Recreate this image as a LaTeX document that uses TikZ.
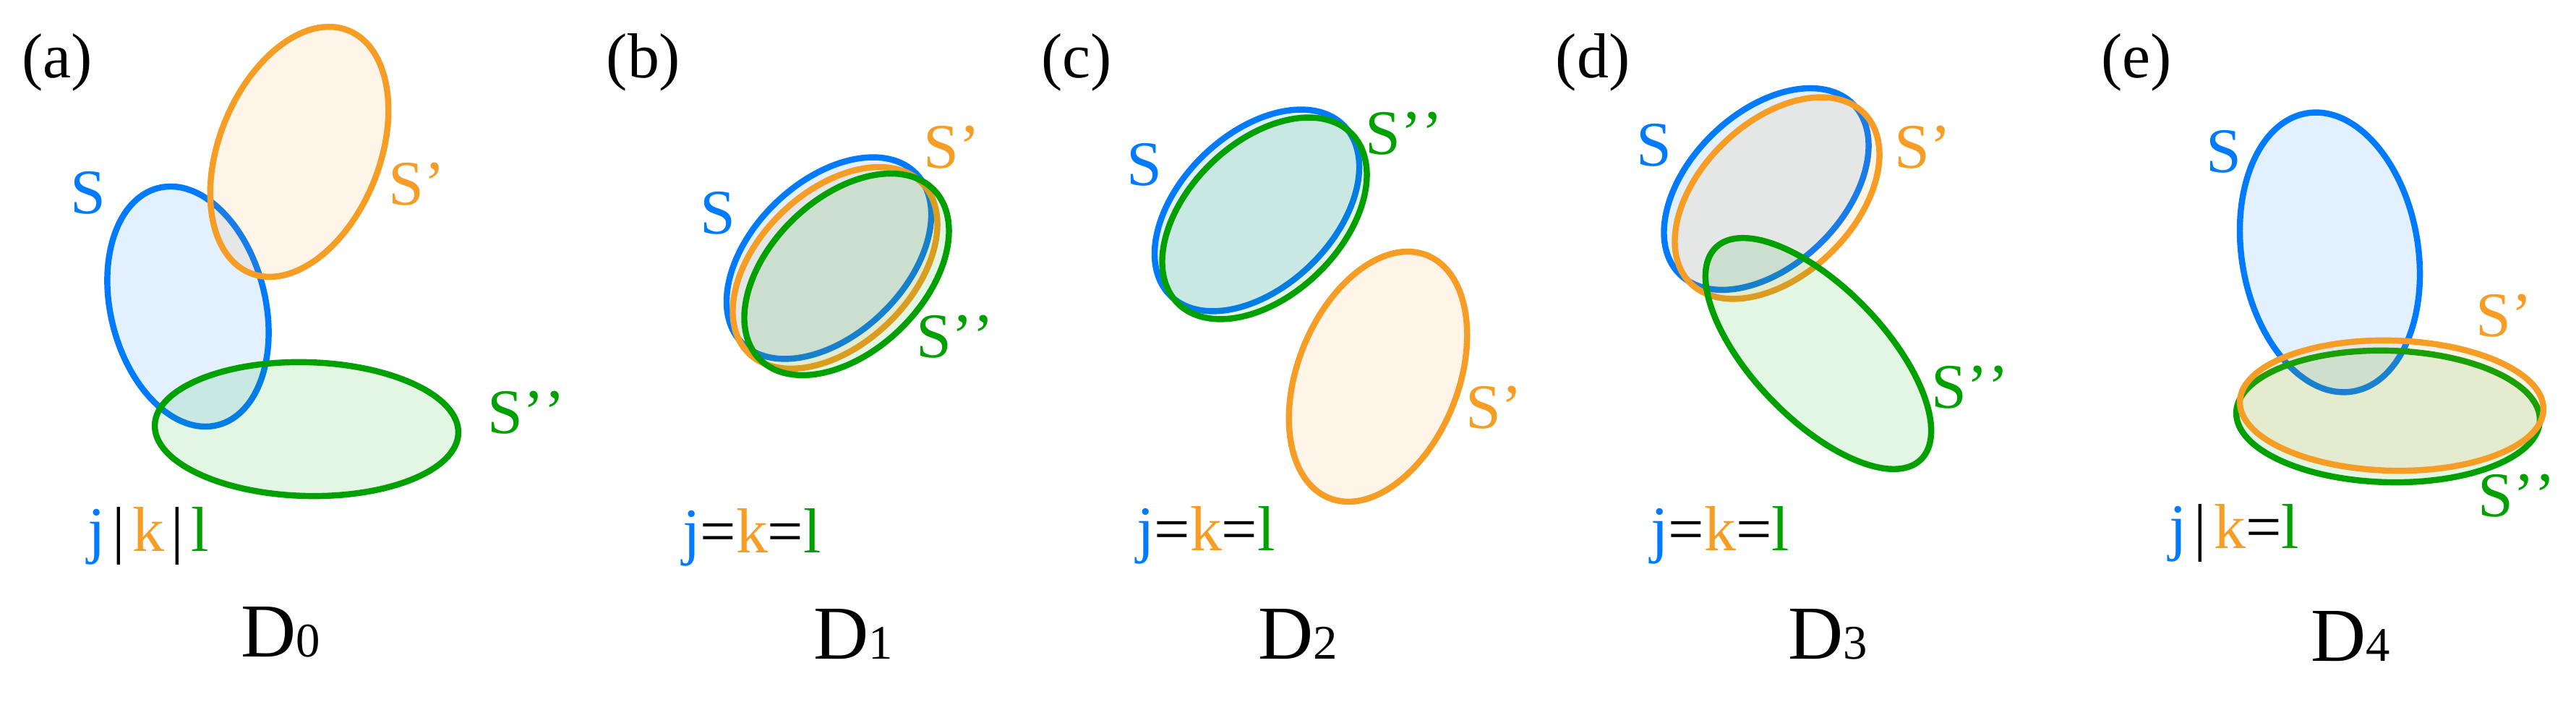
\documentclass[tikz,border=0pt]{standalone}
\usepackage{fontspec}
\setmainfont{Liberation Serif}
\definecolor{cblue}{RGB}{0,122,255}
\definecolor{corange}{RGB}{245,157,37}
\definecolor{cgreen}{RGB}{0,160,0}
\tikzset{
  setS/.style={draw=cblue, fill=cblue, fill opacity=0.11, line width=2.4pt},
  setSp/.style={draw=corange, fill=corange, fill opacity=0.11, line width=2.4pt},
  setSpp/.style={draw=cgreen, fill=cgreen, fill opacity=0.11, line width=2.4pt},
  lbl/.style={inner sep=0pt, font=\fontsize{25}{30}\selectfont},
  dlbl/.style={inner sep=0pt, anchor=base}
}
\newcommand{\dname}[1]{{\fontsize{30}{36}\selectfont D}{\fontsize{19}{22}\selectfont #1}}
\newcommand{\vbar}{\hspace{0.1cm}|\hspace{0.1cm}}
\newcommand{\js}{\textcolor{cblue}{j}}
\newcommand{\ks}{\textcolor{corange}{k}}
\newcommand{\ls}{\textcolor{cgreen}{l}}

\begin{document}
\begin{tikzpicture}
    \useasboundingbox (0,0) rectangle (35.63,10);
    % (a)
    \draw[setS] (2.6,5.76) circle [x radius=1.69, y radius=1.07, rotate=104];
    \draw[setSp] (4.14,7.9) circle [x radius=1.81, y radius=1.11, rotate=68];
    \draw[setSpp] (4.24,4.065) circle [x radius=2.1, y radius=0.925, rotate=-1.5];
    \node[lbl] (tagA) at (0.79,9.14) {(a)};
    \node[lbl, text=cblue] (sA) at (1.22,7.33) {S};
    \node[lbl, text=corange] (spA) at (5.77,7.45) {S’};
    \node[lbl, text=cgreen] (sppA) at (7.28,4.29) {S’\kern0pt’};
    \node[lbl, anchor=base] (relA) at (2.05,2.37) {\js\vbar\ks\vbar\ls};
    \node[dlbl] (dA) at (3.885,0.91) {\dname{0}};

    % (b)
    \draw[setS] (11.465,6.43) circle [x radius=1.68, y radius=1.06, rotate=44];
    \draw[setSp] (11.55,6.295) circle [x radius=1.68, y radius=1.06, rotate=44];
    \draw[setSpp] (11.71,6.205) circle [x radius=1.68, y radius=1.06, rotate=44];
    \node[lbl] (tagB) at (8.9,9.14) {(b)};
    \node[lbl, text=cblue] (sB) at (9.93,7.05) {S};
    \node[lbl, text=corange] (spB) at (13.17,7.96) {S’};
    \node[lbl, text=cgreen] (sppB) at (13.21,5.34) {S’\kern0pt’};
    \node[lbl, anchor=base] (relB) at (10.4,2.35) {\js=\ks=\ls};
    \node[dlbl] (dB) at (11.8,0.88) {\dname{1}};

    % (c)
    \draw[setS] (17.385,7.09) circle [x radius=1.68, y radius=1.06, rotate=44];
    \draw[setSpp] (17.49,6.98) circle [x radius=1.68, y radius=1.06, rotate=44];
    \draw[setSp] (19.06,4.79) circle [x radius=1.81, y radius=1.11, rotate=68];
    \node[lbl] (tagC) at (14.89,9.14) {(c)};
    \node[lbl, text=cblue] (sC) at (15.83,7.72) {S};
    \node[lbl, text=cgreen] (sppC) at (19.42,8.15) {S’\kern0pt’};
    \node[lbl, text=corange] (spC) at (20.67,4.36) {S’};
    \node[lbl, anchor=base] (relC) at (16.68,2.38) {\js=\ks=\ls};
    \node[dlbl] (dC) at (17.95,0.88) {\dname{2}};

    % (d)
    \draw[setS] (24.43,7.385) circle [x radius=1.68, y radius=1.06, rotate=44];
    \draw[setSp] (24.58,7.26) circle [x radius=1.68, y radius=1.06, rotate=44];
    \draw[setSpp] (25.15,5.11) circle [x radius=2.04, y radius=0.91, rotate=-46];
    \node[lbl] (tagD) at (22.03,9.14) {(d)};
    \node[lbl, text=cblue] (sD) at (22.875,7.99) {S};
    \node[lbl, text=corange] (spD) at (26.6,7.96) {S’};
    \node[lbl, text=cgreen] (sppD) at (27.25,4.64) {S’\kern0pt’};
    \node[lbl, anchor=base] (relD) at (23.79,2.38) {\js=\ks=\ls};
    \node[dlbl] (dD) at (25.285,0.88) {\dname{3}};

    % (e)
    \draw[setS] (32.225,6.51) circle [x radius=1.95, y radius=1.22, rotate=99.4];
    \draw[setSpp] (33.03,4.24) circle [x radius=2.1, y radius=0.91, rotate=-1.5];
    \draw[setSp] (33.08,4.39) circle [x radius=2.1, y radius=0.9, rotate=-1.5];
    \node[lbl] (tagE) at (29.55,9.14) {(e)};
    \node[lbl, text=cblue] (sE) at (30.76,7.9) {S};
    \node[lbl, text=corange] (spE) at (34.64,5.63) {S’};
    \node[lbl, text=cgreen] (sppE) at (34.81,3.14) {S’\kern0pt’};
    \node[lbl, anchor=base] (relE) at (30.9,2.41) {\js\vbar\ks=\ls};
    \node[dlbl] (dE) at (32.515,0.85) {\dname{4}};
\end{tikzpicture}
\end{document}
